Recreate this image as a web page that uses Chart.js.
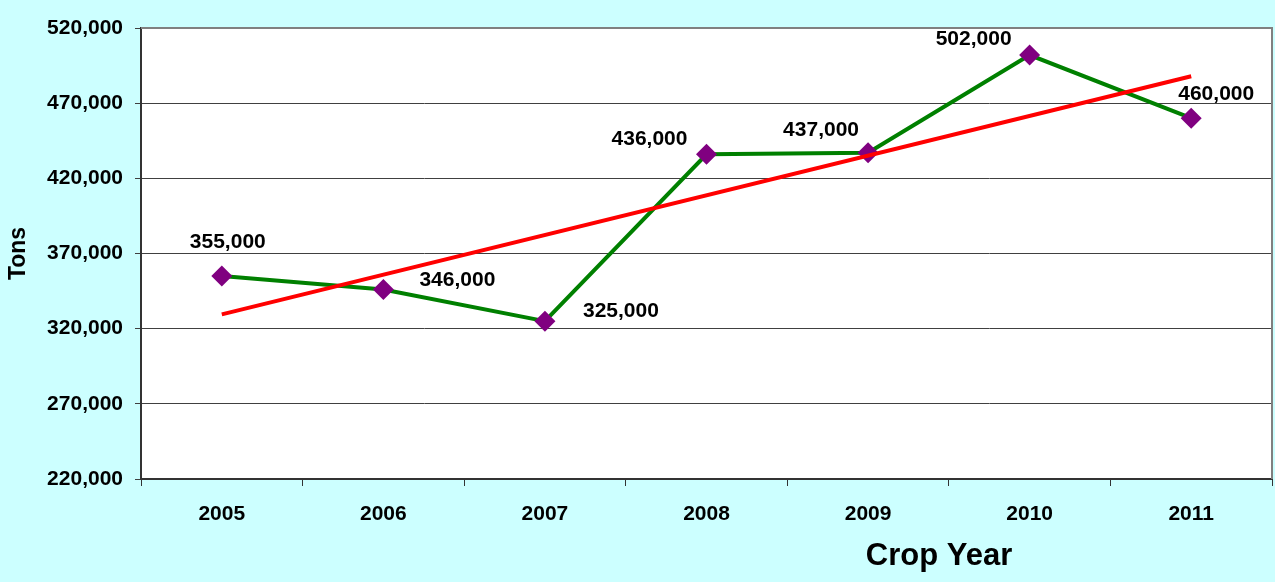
<!DOCTYPE html>
<html>
<head>
<meta charset="utf-8">
<script src="https://cdn.jsdelivr.net/npm/chart.js@4"></script>
<style>
  body { margin: 0; background: #CCFFFF; }
  canvas { display: block; }
</style>
</head>
<body>
<canvas id="cropChart" width="1275" height="582"></canvas>
<script>
// Crop years and production (tons)
const years = ['2005', '2006', '2007', '2008', '2009', '2010', '2011'];
const tons = [355000, 346000, 325000, 436000, 437000, 502000, 460000];
// trend line only has its two end values (2005 and 2011)
const trendTons = [329500, null, null, null, null, null, 487900];
const yTicks = [220000, 270000, 320000, 370000, 420000, 470000, 520000];

// where each value label sits relative to its point (px)
const labelOffsets = [[6, -34], [74, -9], [76, -10], [-57, -15], [-47, -23], [-56, -16], [25, -24]];

const FONT = "'Liberation Sans', Arial, sans-serif";

// Paint backgrounds, plot frame
const framePlugin = {
    id: 'frame',
    beforeDraw(chart) {
        const ctx = chart.ctx;
        const a = chart.chartArea;
        ctx.save();
        ctx.fillStyle = '#CCFFFF';
        ctx.fillRect(0, 0, chart.width, chart.height);
        ctx.fillStyle = '#FFFFFF';
        ctx.fillRect(a.left, a.top, a.right - a.left, a.bottom - a.top);
        ctx.restore();
    },
    afterDraw(chart) {
        const ctx = chart.ctx;
        const a = chart.chartArea;
        ctx.save();
        // grey top + right border
        ctx.strokeStyle = '#808080';
        ctx.lineWidth = 2;
        ctx.beginPath();
        ctx.moveTo(a.left, a.top);
        ctx.lineTo(a.right, a.top);
        ctx.lineTo(a.right, a.bottom);
        ctx.stroke();
        // x axis title, sits right of centre like the original
        ctx.fillStyle = '#000';
        ctx.font = 'bold 31px ' + FONT;
        ctx.textAlign = 'center';
        ctx.textBaseline = 'middle';
        ctx.fillText('Crop Year', 939, 556);
        ctx.restore();
    }
};

// Value labels on the green series
const valueLabels = {
    id: 'valueLabels',
    afterDatasetsDraw(chart) {
        const ctx = chart.ctx;
        const meta = chart.getDatasetMeta(1);
        ctx.save();
        ctx.fillStyle = '#000';
        ctx.font = 'bold 21px ' + FONT;
        ctx.textAlign = 'center';
        ctx.textBaseline = 'middle';
        meta.data.forEach((pt, i) => {
            const off = labelOffsets[i];
            ctx.fillText(tons[i].toLocaleString('en-US'), pt.x + off[0], pt.y + off[1]);
        });
        ctx.restore();
    }
};

new Chart(document.getElementById('cropChart'), {
    type: 'line',
    data: {
        labels: years,
        datasets: [
            {
                label: 'Trend',
                data: trendTons,
                borderColor: '#FF0000',
                borderWidth: 4,
                pointRadius: 0,
                spanGaps: true,
                fill: false,
                order: 0 // on top
            },
            {
                label: 'Tons',
                data: tons,
                borderColor: '#008000',
                borderWidth: 4,
                pointStyle: 'rectRot',
                pointRadius: 10.5,
                pointBackgroundColor: '#800080',
                pointBorderColor: '#800080',
                pointBorderWidth: 0,
                fill: false,
                order: 1
            }
        ]
    },
    options: {
        responsive: false,
        animation: false,
        layout: {
            autoPadding: false, // markers would otherwise push the plot in
            padding: { top: 28, right: 3, left: 0, bottom: 0 }
        },
        plugins: {
            legend: { display: false },
            tooltip: { enabled: false }
        },
        scales: {
            x: {
                type: 'category',
                offset: true,
                afterFit(scale) {
                    scale.height = 103;
                },
                grid: {
                    offset: true,
                    drawOnChartArea: false,
                    color: '#333333',
                    lineWidth: 1,
                    tickLength: 7
                },
                border: { color: '#333333', width: 2 },
                ticks: {
                    color: '#000',
                    padding: 16,
                    font: { family: FONT, size: 21, weight: 'bold' }
                }
            },
            y: {
                min: yTicks[0],
                max: yTicks[yTicks.length - 1],
                afterFit(scale) { scale.width = 141; },
                afterBuildTicks(scale) {
                    scale.ticks = yTicks.map(v => ({ value: v }));
                },
                grid: {
                    color: '#404040',
                    lineWidth: 1,
                    tickLength: 6
                },
                border: { color: '#333333', width: 2 },
                ticks: {
                    color: '#000',
                    padding: 12,
                    font: { family: FONT, size: 21, weight: 'bold' },
                    callback: v => v.toLocaleString('en-US')
                },
                title: {
                    display: true,
                    text: 'Tons',
                    color: '#000',
                    padding: { top: 5, bottom: 0 },
                    font: { family: FONT, size: 23, weight: 'bold' }
                }
            }
        }
    },
    plugins: [framePlugin, valueLabels]
});
</script>
</body>
</html>
